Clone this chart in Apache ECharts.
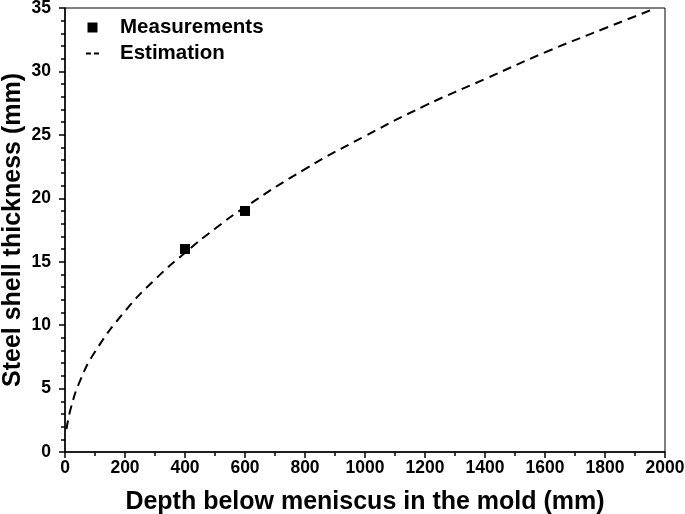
<!DOCTYPE html>
<html>
<head>
<meta charset="utf-8">
<script src="https://cdn.jsdelivr.net/npm/echarts@6/dist/echarts.min.js"></script>
<style>
html,body{margin:0;padding:0;background:#fff;}
#c{width:685px;height:514px;}
</style>
</head>
<body>
<div id="c"></div>
<script>
var measX = [400, 600];
var measY = [16, 19];
var estX = [5, 20, 50, 100, 200, 300, 400, 500, 600, 800, 1000, 1200, 1400, 1600, 1800, 1960];
var estY = [1.8, 3.5, 5.6, 7.9, 11.1, 13.6, 15.7, 17.6, 19.3, 22.3, 24.9, 27.3, 29.4, 31.5, 33.4, 34.9];
var xTicks = [0, 200, 400, 600, 800, 1000, 1200, 1400, 1600, 1800, 2000];
var yTicks = [0, 5, 10, 15, 20, 25, 30, 35];

var font = 'Liberation Sans, Arial, sans-serif';
var chart = echarts.init(document.getElementById('c'));
chart.setOption({
  animation: false,
  grid: {left: 65, right: 20, top: 8, bottom: 62, show: true, borderColor: '#000', borderWidth: 1,
    containLabel: false, outerBoundsMode: 'none'},
  legend: {
    orient: 'vertical', left: 81, top: 12, itemGap: 5, itemWidth: 13, itemHeight: 10,
    textStyle: {fontFamily: font, fontWeight: 'bold', fontSize: 20.5, color: '#000', padding: [0, 0, 0, 16]},
    data: [
      {name: 'Measurements', icon: 'path://M0,0h10v10h-10z', itemStyle: {color: '#000'}},
      {name: 'Estimation', icon: 'path://M0,4h5v2h-5zM8,4h5v2h-5z', itemStyle: {color: '#000'}}
    ]
  },
  xAxis: {
    type: 'value', min: 0, max: 2000, interval: 200,
    name: 'Depth below meniscus in the mold (mm)', nameLocation: 'middle', nameGap: 38,
    nameMoveOverlap: false,
    nameTextStyle: {fontFamily: font, fontWeight: 'bold', fontSize: 25, color: '#000'},
    axisLine: {show: true, onZero: false, lineStyle: {color: '#000', width: 1.5}},
    axisTick: {show: true, inside: false, length: 6, lineStyle: {color: '#000', width: 1.5}},
    minorTick: {show: true, splitNumber: 2, length: 4, lineStyle: {color: '#000', width: 1.5}},
    splitLine: {show: false},
    axisLabel: {fontFamily: font, fontWeight: 'bold', fontSize: 17.5, color: '#000', margin: 7,
      formatter: function (v) { return xTicks.indexOf(v) >= 0 ? String(v) : ''; }}
  },
  yAxis: {
    type: 'value', min: 0, max: 35, interval: 5,
    name: 'Steel shell thickness (mm)', nameLocation: 'middle', nameGap: 39,
    nameMoveOverlap: false,
    nameTextStyle: {fontFamily: font, fontWeight: 'bold', fontSize: 25, color: '#000'},
    axisLine: {show: true, onZero: false, lineStyle: {color: '#000', width: 1.5}},
    axisTick: {show: true, inside: false, length: 6, lineStyle: {color: '#000', width: 1.5}},
    minorTick: {show: true, splitNumber: 5, length: 4, lineStyle: {color: '#000', width: 1.5}},
    splitLine: {show: false},
    axisLabel: {fontFamily: font, fontWeight: 'bold', fontSize: 17.5, color: '#000', margin: 14,
      formatter: function (v) { return yTicks.indexOf(v) >= 0 ? String(v) : ''; }}
  },
  series: [
    {
      name: 'Measurements', type: 'scatter', symbol: 'rect', symbolSize: 10,
      itemStyle: {color: '#000', opacity: 1},
      data: measX.map(function (x, i) { return [x, measY[i]]; }),
      z: 3
    },
    {
      name: 'Estimation', type: 'line', smooth: true, showSymbol: false, symbol: 'none',
      lineStyle: {color: '#000', width: 2, type: [9, 6]},
      itemStyle: {color: '#000'},
      data: estX.map(function (x, i) { return [x, estY[i]]; }),
      z: 2
    }
  ]
});
</script>
</body>
</html>
